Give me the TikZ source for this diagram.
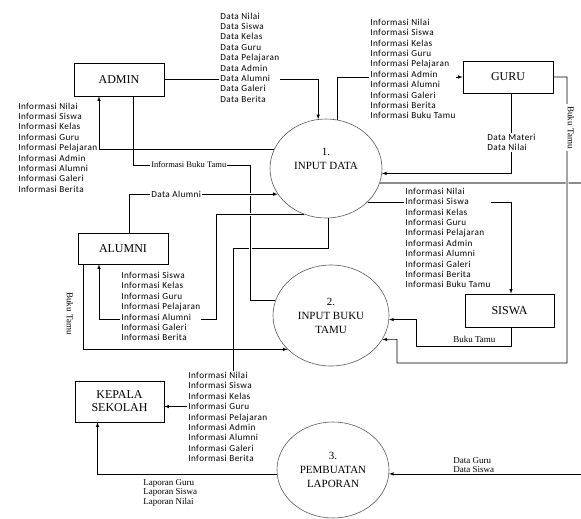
\documentclass[tikz,border=0pt]{standalone}
\usepackage{fontspec}
\setmainfont{Liberation Serif}
\newfontfamily\lblfont[LetterSpace=4.5]{Carlito}
\usetikzlibrary{shapes.geometric}

\begin{document}
\begin{tikzpicture}[x=10pt, y=10pt, line width=0.6pt,
  ent/.style={draw, minimum width=90pt, minimum height=33pt, inner sep=1pt,
              font=\fontsize{12}{13}\selectfont, align=center},
  proc/.style={draw=black!65, ellipse, inner sep=0pt, align=center,
               font=\fontsize{11}{14}\selectfont},
  lbl/.style={font=\lblfont\fontsize{9.2}{10.4}\selectfont, align=left,
              anchor=west, fill=white, inner sep=1pt},
  tlbl/.style={font=\fontsize{9}{9.5}\selectfont, align=left, anchor=west, inner sep=1pt},
  arr/.style={->, >=latex},
  gline/.style={draw=black!45, line width=1.5pt},
  hop/.style={preaction={draw=white, line width=3pt, shorten <=4pt, shorten >=4pt}}
]
  \useasboundingbox (0,0) rectangle (58.1,-51.9);
  \coordinate (edgeR) at (58.1,0);

  % External entities
  \node[ent] (admin) at (11.9,-7.95) {ADMIN};
  \node[ent, minimum height=32pt] (guru) at (50.8,-7.7) {GURU};
  \node[ent, minimum height=31pt] (alumni) at (12.3,-24.85) {ALUMNI};
  \node[ent, minimum width=89pt] (siswa) at (50.95,-31.05) {SISWA};
  \node[ent, minimum width=89pt, minimum height=41pt] (kepsek) at (11.95,-40.15) {KEPALA\\SEKOLAH};

  % Processes
  \node[proc, minimum width=112pt, minimum height=99pt, text depth=19pt] (c1) at (32.6,-16.85) {1.\\INPUT DATA};
  \node[proc, minimum width=116pt, minimum height=101pt] (c2) at (33.1,-31.55) {2.\\INPUT BUKU\\TAMU};
  \node[proc, minimum width=112pt, minimum height=96pt] (c3) at (33.3,-47) {3.\\PEMBUATAN\\LAPORAN};

  % Flows
  \draw[arr] (c1.273) |- (23.3,-24.8) |- ([yshift=-5pt]kepsek.east);
  \draw[hop] ([xshift=14pt]admin.south) |- (25,-16.5) |- (c2.165);
  \draw[arr, hop] ([xshift=6pt]alumni.north) |- (c1.208);
  \draw[arr, hop] (c1.244) -| (21.6,-31.9) -| ([xshift=-24pt]alumni.south);
  \draw[arr] (c1.160) -| ([xshift=-20pt]admin.south);
  \draw[arr] (admin.east) -| (c1.99);
  \draw[arr] (c1.77) |- (guru.west);
  \draw[arr] ([xshift=3pt]guru.south) |- (c1.355);
  \draw[gline] (c1.345) -- (c1.345 -| edgeR);
  \draw[arr, hop] (guru.east) -| (56.7,-36.3) -| (39.7,-33.93) -- (c2.335);
  \draw[arr] (c1.321) -| ([xshift=1.5pt]siswa.north);
  \draw[arr] ([xshift=1.5pt]siswa.south) |- (41.6,-34.6) |- (c2.356);
  \draw[arr] ([xshift=-40pt]alumni.south) |- (c2.218);
  \draw[arr] (c3.184) -| ([xshift=-22pt]kepsek.south);
  \draw[arr] (c3.356 -| edgeR) -- (c3.356);

  % Flow labels
  \node[lbl] (dadmin) at (21.9,-5.75) {Data Nilai\\Data Siswa\\Data Kelas\\Data Guru\\Data Pelajaran\\Data Admin\\Data Alumni\\Data Galeri\\Data Berita};
  \node[lbl] (iguru) at (36.9,-6.9) {Informasi Nilai\\Informasi Siswa\\Informasi Kelas\\Informasi Guru\\Informasi Pelajaran\\Informasi Admin\\Informasi Alumni\\Informasi Galeri\\Informasi Berita\\Informasi Buku Tamu};
  \node[lbl] (iadmin) at (1.7,-14.75) {Informasi Nilai\\Informasi Siswa\\Informasi Kelas\\Informasi Guru\\Informasi Pelajaran\\Informasi Admin\\Informasi Alumni\\Informasi Galeri\\Informasi Berita};
  \node[lbl] (ialumni) at (12.0,-30.65) {Informasi Siswa\\Informasi Kelas\\Informasi Guru\\Informasi Pelajaran\\Informasi Alumni\\Informasi Galeri\\Informasi Berita};
  \node[lbl] (isiswa) at (40.4,-23.8) {Informasi Nilai\\Informasi Siswa\\Informasi Kelas\\Informasi Guru\\Informasi Pelajaran\\Informasi Admin\\Informasi Alumni\\Informasi Galeri\\Informasi Berita\\Informasi Buku Tamu};
  \node[lbl] (ikepsek) at (18.7,-41.7) {Informasi Nilai\\Informasi Siswa\\Informasi Kelas\\Informasi Guru\\Informasi Pelajaran\\Informasi Admin\\Informasi Alumni\\Informasi Galeri\\Informasi Berita};
  \node[lbl] (dalumni) at (15.0,-19.4) {Data Alumni};
  \node[lbl] (dmateri) at (48.6,-14.25) {Data Materi\\Data Nilai};

  \node[tlbl, font=\fontsize{8.5}{10}\selectfont, fill=white] (ibuku) at (15.0,-16.5) {Informasi Buku Tamu};
  \node[tlbl] (bsiswa) at (45.2,-33.9) {Buku Tamu};
  \node[tlbl, font=\fontsize{9}{8.5}\selectfont] (dguru) at (45.2,-46.5) {Data Guru\\Data Siswa};
  \node[tlbl] (laporan) at (14.2,-49.25) {Laporan Guru\\Laporan Siswa\\Laporan Nilai};
  \node[tlbl, rotate=-90, anchor=center] (balumni) at (7.0,-31.35) {Buku Tamu};
  \node[tlbl, rotate=-90, anchor=center, fill=white, inner sep=2pt] (bguru) at (57.1,-12.75) {Buku Tamu};
\end{tikzpicture}
\end{document}
